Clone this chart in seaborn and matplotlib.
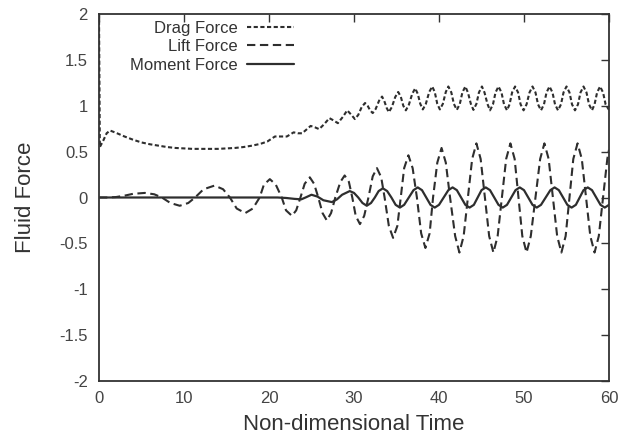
import matplotlib
matplotlib.use("Agg")
import matplotlib.pyplot as plt
import seaborn as sns
import pandas as pd
from matplotlib.ticker import FuncFormatter

# ---- data ----
drag_t = [0.0, 0.1, 0.5, 0.9, 1.3, 2.0, 3.0, 4.0, 5.0, 6.0, 7.0, 8.0, 9.0, 10.0, 11.0, 12.0,
          13.0, 14.0, 15.0, 16.0, 17.0, 18.0, 19.0, 19.8, 20.7, 21.4, 22.1, 22.9, 23.4, 23.9,
          24.4, 24.9, 25.4, 25.9, 26.5, 27.1, 27.6, 28.1, 28.7, 29.2, 29.7, 30.1,
          30.5, 30.9, 31.3, 31.6, 31.9, 32.2, 32.55, 32.95, 33.3, 33.55, 33.85, 34.1,
          34.45, 34.85, 35.2, 35.5, 35.8, 36.1, 36.45, 36.85, 37.2, 37.5, 37.8, 38.1,
          38.45, 38.85, 39.2, 39.5, 39.8, 40.1, 40.45, 40.8, 41.1, 41.45, 41.75, 42.1,
          42.45, 42.75, 43.1, 43.4, 43.75, 44.05, 44.4, 44.7, 45.05, 45.35, 45.7, 46.0,
          46.35, 46.65, 47.0, 47.35, 47.65, 48.0, 48.3, 48.6, 48.95, 49.3, 49.6, 49.95,
          50.3, 50.65, 51.0, 51.35, 51.65, 52.0, 52.35, 52.65, 53.0, 53.35, 53.65, 54.0,
          54.35, 54.65, 55.0, 55.35, 55.65, 56.0, 56.35, 56.65, 57.0, 57.35, 57.65, 58.0,
          58.3, 58.6, 58.95, 59.3, 59.6, 60.0]
drag_v = [2.0, 0.55, 0.62, 0.70, 0.73, 0.705, 0.665, 0.63, 0.60, 0.58, 0.565, 0.55, 0.54, 0.535, 0.53, 0.53,
          0.53, 0.53, 0.535, 0.54, 0.55, 0.565, 0.585, 0.61, 0.665, 0.665, 0.665, 0.71, 0.70, 0.70,
          0.74, 0.78, 0.765, 0.745, 0.80, 0.865, 0.84, 0.81, 0.88, 0.95, 0.90, 0.855,
          0.90, 0.985, 1.03, 1.0, 0.95, 0.92, 0.965, 1.055, 1.10, 1.055, 0.975, 0.93,
          0.985, 1.095, 1.15, 1.10, 1.0, 0.95, 1.01, 1.13, 1.19, 1.13, 1.02, 0.96,
          1.02, 1.15, 1.21, 1.15, 1.02, 0.96, 1.02, 1.15, 1.21, 1.145, 1.02, 0.955,
          1.02, 1.145, 1.21, 1.145, 1.02, 0.955, 1.02, 1.145, 1.21, 1.145, 1.02, 0.95,
          1.015, 1.145, 1.21, 1.145, 1.015, 0.95, 1.015, 1.145, 1.21, 1.145, 1.015, 0.95,
          1.015, 1.145, 1.21, 1.145, 1.015, 0.95, 1.015, 1.145, 1.21, 1.145, 1.015, 0.95,
          1.015, 1.145, 1.21, 1.145, 1.015, 0.95, 1.015, 1.145, 1.21, 1.145, 1.015, 0.95,
          1.015, 1.145, 1.21, 1.145, 1.015, 0.955]

lift_t = [0.0, 1.0, 2.0, 3.0, 4.0, 5.4, 6.5, 7.4, 8.4, 9.5, 10.5, 11.3, 12.3, 13.6, 14.6, 15.4,
          16.2, 17.2, 18.1, 18.9, 19.4, 20.1, 20.8, 21.5, 22.0, 22.7, 23.2, 23.7, 24.2, 24.8,
          25.3, 25.8, 26.3, 26.8, 27.3, 27.8, 28.4, 28.9, 29.4, 29.8, 30.2, 30.7, 31.2, 31.7,
          32.2, 32.7, 33.2, 33.6, 34.1, 34.6, 35.1, 35.5, 35.9, 36.4, 36.9, 37.4, 37.9, 38.4,
          38.9, 39.3, 39.8, 40.3, 40.8, 41.3, 41.9, 42.4, 42.9, 43.4, 43.9, 44.4, 44.9, 45.4,
          45.9, 46.4, 46.9, 47.4, 47.9, 48.4, 48.9, 49.35, 49.8, 50.3, 50.8, 51.35, 51.9, 52.4,
          52.9, 53.4, 53.9, 54.4, 54.9, 55.35, 55.8, 56.3, 56.8, 57.3, 57.8, 58.3, 58.8, 59.3,
          59.8, 60.0]
lift_v = [0.0, 0.0, 0.005, 0.02, 0.04, 0.05, 0.035, 0.0, -0.06, -0.09, -0.06, 0.0, 0.09, 0.13, 0.09, 0.0,
          -0.12, -0.17, -0.12, 0.0, 0.14, 0.20, 0.14, 0.0, -0.14, -0.20, -0.14, 0.0, 0.15, 0.22,
          0.15, 0.0, -0.17, -0.25, -0.17, 0.0, 0.17, 0.24, 0.17, 0.0, -0.20, -0.29, -0.20, 0.0,
          0.23, 0.32, 0.22, 0.0, -0.31, -0.44, -0.31, 0.0, 0.32, 0.46, 0.32, 0.0, -0.39, -0.55,
          -0.39, 0.0, 0.38, 0.54, 0.38, 0.0, -0.42, -0.60, -0.42, 0.0, 0.42, 0.59, 0.42, 0.0,
          -0.42, -0.60, -0.42, 0.0, 0.42, 0.59, 0.42, 0.0, -0.42, -0.60, -0.42, 0.0, 0.42, 0.59,
          0.42, 0.0, -0.42, -0.60, -0.42, 0.0, 0.42, 0.59, 0.42, 0.0, -0.42, -0.60, -0.42, 0.0,
          0.42, 0.52]

moment_t = [0.0, 20.0, 21.0, 22.0, 23.0, 23.8, 24.3, 25.0, 25.7, 26.4, 27.4, 28.0, 28.6, 29.5,
            30.0, 30.5, 31.0, 31.5, 32.0, 32.45, 32.9, 33.4, 33.9, 34.4, 34.9, 35.4, 35.9, 36.45,
            37.0, 37.5, 38.0, 38.5, 39.0, 39.5, 40.0, 40.55, 41.1, 41.6, 42.1, 42.6, 43.1, 43.6,
            44.1, 44.55, 45.0, 45.5, 46.0, 46.5, 47.0, 47.5, 48.0, 48.5, 49.0, 49.5, 50.0, 50.5,
            51.0, 51.5, 52.0, 52.55, 53.1, 53.6, 54.1, 54.6, 55.1, 55.6, 56.1, 56.55, 57.0, 57.5,
            58.0, 58.5, 59.0, 59.5, 60.0]
moment_v = [0.0, 0.0, 0.0, -0.005, -0.015, -0.02, 0.0, 0.03, 0.01, -0.03, -0.05, -0.02, 0.03, 0.07,
            0.05, 0.0, -0.06, -0.09, -0.06, 0.0, 0.07, 0.10, 0.07, 0.0, -0.08, -0.11, -0.08, 0.0,
            0.08, 0.11, 0.08, 0.0, -0.08, -0.11, -0.08, 0.0, 0.08, 0.11, 0.08, 0.0, -0.08, -0.11,
            -0.08, 0.0, 0.08, 0.11, 0.08, 0.0, -0.08, -0.11, -0.08, 0.0, 0.08, 0.11, 0.08, 0.0,
            -0.08, -0.11, -0.08, 0.0, 0.08, 0.11, 0.08, 0.0, -0.08, -0.11, -0.08, 0.0, 0.08, 0.11,
            0.08, 0.0, -0.08, -0.11, -0.08]

series_names = ["Drag Force", "Lift Force", "Moment Force"]
x_ticks = [0, 10, 20, 30, 40, 50, 60]
y_ticks = [-2, -1.5, -1, -0.5, 0, 0.5, 1, 1.5, 2]

# ---- style ----
sns.set_theme(style="white")
plt.rcParams['font.family'] = ['Liberation Sans', 'DejaVu Sans']
plt.rcParams['axes.unicode_minus'] = False

W, H = 623, 440
ax_left, ax_right, ax_top, ax_bottom = 99, 609, 14, 381
fig = plt.figure(figsize=(W / 100, H / 100), dpi=100)
ax = fig.add_axes([ax_left / W, 1 - ax_bottom / H,
                   (ax_right - ax_left) / W, (ax_bottom - ax_top) / H])

ink = '#2e2e2e'
styles = [(0, (2.0, 1.2)), (0, (4.0, 2.2)), '-']
widths = [1.5, 1.5, 1.6]
data = [(drag_t, drag_v), (lift_t, lift_v), (moment_t, moment_v)]
for (tt, vv), name, ls, lw in zip(data, series_names, styles, widths):
    df = pd.DataFrame({"t": tt, "v": vv})
    sns.lineplot(data=df, x="t", y="v", ax=ax, color=ink, linewidth=lw,
                 estimator=None, sort=False, label=name, linestyle=ls)

ax.set_xlim(0, 60)
ax.set_ylim(-2, 2)
ax.set_xticks(x_ticks)
ax.set_yticks(y_ticks)
ax.yaxis.set_major_formatter(FuncFormatter(lambda v, p: '%g' % v))
ax.xaxis.set_major_formatter(FuncFormatter(lambda v, p: '%g' % v))

ax.tick_params(direction='in', length=6, width=1, top=True, right=True,
               labelsize=12, labelcolor='#444444', color='#333333')
ax.tick_params(axis='x', pad=7)
ax.tick_params(axis='y', pad=8)
for sp in ax.spines.values():
    sp.set_visible(True)
    sp.set_color('#333333')
    sp.set_linewidth(1.3)

ax.set_xlabel("Non-dimensional Time", fontsize=16, color='#333333', labelpad=6)
ax.set_ylabel("Fluid Force", fontsize=16, color='#333333', labelpad=17)

leg_top_frac = (ax_bottom - 21) / (ax_bottom - ax_top)
leg = ax.legend(loc='upper right',
                bbox_to_anchor=((294 - ax_left) / (ax_right - ax_left), leg_top_frac),
                frameon=False, markerfirst=False, fontsize=12, handlelength=2.8,
                handletextpad=0.6, labelspacing=0.2, borderpad=0, borderaxespad=0)
for t in leg.get_texts():
    t.set_color('#333333')

fig.savefig("out.png", dpi=100)
